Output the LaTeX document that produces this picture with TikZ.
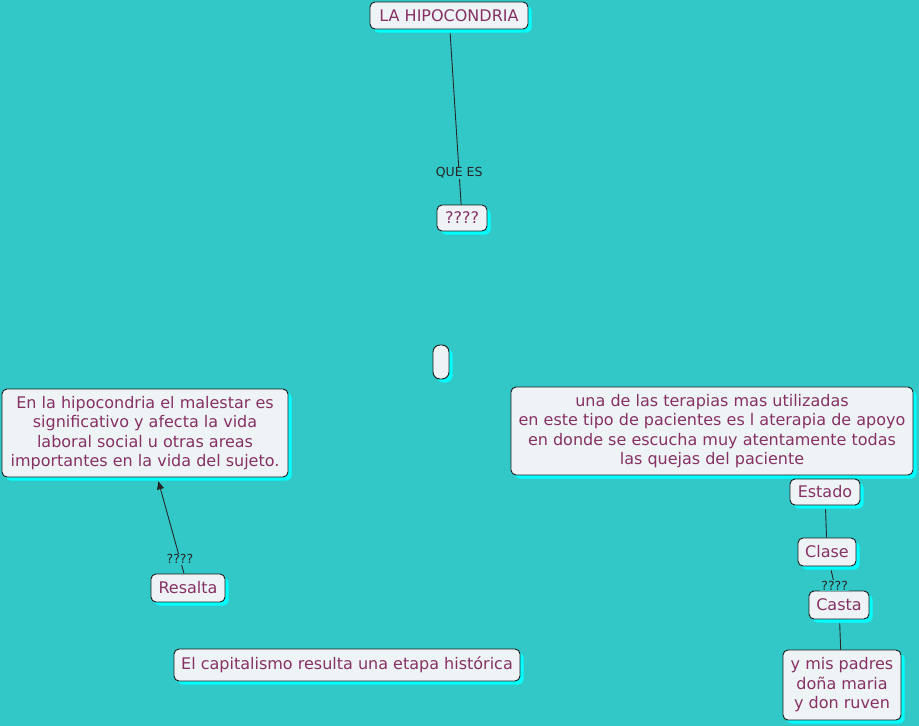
\documentclass[tikz,border=0pt]{standalone}
\usepackage{fontspec}
\setmainfont{DejaVu Sans}
\usepackage{xcolor}
\usepackage{tikz}
\usetikzlibrary{arrows.meta, positioning, shadows}

\definecolor{mapbg}{RGB}{51,200,200}
\definecolor{nodefill}{RGB}{238,244,246}
\definecolor{nodetext}{RGB}{135,48,100}
\definecolor{glow}{RGB}{0,255,255}

\begin{document}
\begin{tikzpicture}[
    x=1pt, y=-1pt,
    concept/.style={rectangle, rounded corners=5pt, draw=black!90, line width=0.9pt, fill=nodefill, text=nodetext, font=\fontsize{16}{19.5}\selectfont, align=center, inner sep=2pt, drop shadow={shadow xshift=3.5pt, shadow yshift=-3.5pt, fill=glow, opacity=1}},
    link/.style={draw=black!85, line width=0.9pt},
    linklabel/.style={font=\fontsize{12.5}{14}\selectfont, text=black!85, fill=mapbg, inner sep=1pt},
    arrow/.style={link, -{Triangle[length=8pt, width=7pt]}},
]
\fill[mapbg] (0,0) rectangle (919,726);
\useasboundingbox (0,0) rectangle (919,726);

% Top: title and question
\node[concept, minimum width=158pt, minimum height=27pt] (hipo) at (449,15.5) {LA HIPOCONDRIA};
\node[concept, minimum width=50pt, minimum height=26pt] (queEs) at (462,218) {????};
\draw[link, shorten <=4pt] (hipo) -- node[linklabel, pos=0.82]{QUE ES} (queEs);

% Middle: empty concept
\node[concept, minimum width=16pt, minimum height=34pt, rounded corners=7pt] (blank) at (441,362) {};

% Left branch
\node[concept, minimum width=286pt, minimum height=88pt] (malestar) at (145,433) {En la hipocondria el malestar es\\significativo y afecta la vida\\laboral social u otras areas\\importantes en la vida del sujeto.};
\node[concept, minimum width=74pt, minimum height=28pt] (resalta) at (188,588) {Resalta};
\draw[arrow, shorten >=4pt] (resalta) -- node[linklabel, pos=0.15]{????} (malestar);

\node[concept, minimum width=346pt, minimum height=32pt] (capital) at (347,665) {El capitalismo resulta una etapa histórica};

% Right branch
\node[concept, minimum width=402pt, minimum height=88pt] (terapia) at (712,431) {una de las terapias mas utilizadas\\en este tipo de pacientes es l aterapia de apoyo\\en donde se escucha muy atentamente todas\\las quejas del paciente};
\node[concept, minimum width=70pt, minimum height=26pt] (estado) at (825,492) {Estado};
\node[concept, minimum width=58pt, minimum height=28pt] (clase) at (827,552) {Clase};
\node[concept, minimum width=60pt, minimum height=28pt] (casta) at (839,605) {Casta};
\node[concept, minimum width=118pt, minimum height=70pt] (padres) at (842,685) {y mis padres\\doña maria\\y don ruven};

\draw[link, shorten <=4pt] (estado) -- (clase);
\draw[link, shorten <=4pt] (clase) -- node[linklabel, pos=0.8]{????} (casta);
\draw[link, shorten <=4pt] (casta) -- (padres);
\end{tikzpicture}
\end{document}
